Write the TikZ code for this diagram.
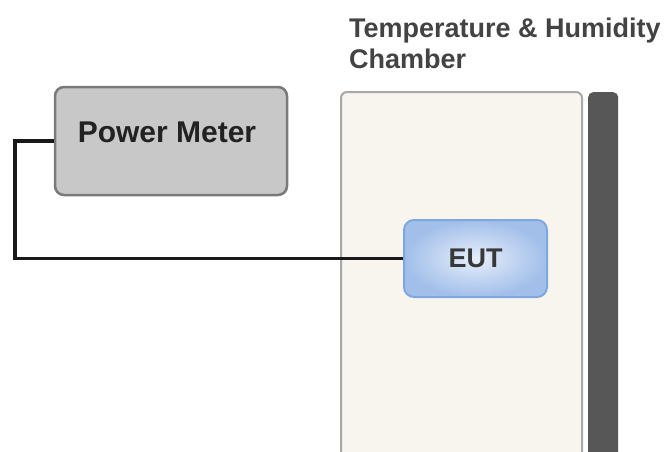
\documentclass[tikz,border=0pt]{standalone}
\usepackage{fontspec}
\setmainfont{Liberation Sans}
\definecolor{pmfill}{HTML}{C8C8C8}
\definecolor{pmline}{HTML}{7A7A7A}
\definecolor{chfill}{HTML}{F8F5EE}
\definecolor{chline}{HTML}{A8A8A8}
\definecolor{barfill}{HTML}{575757}
\definecolor{eutouter}{HTML}{A2BFEA}
\definecolor{eutinner}{HTML}{E6EEFA}
\definecolor{eutline}{HTML}{7FA7DF}
\definecolor{txt}{HTML}{222222}
\begin{document}
\begin{tikzpicture}[x=1pt,y=-1pt,
  pmbox/.style={draw=pmline, line width=2.5pt, fill=pmfill, rounded corners=9pt, minimum width=232pt, minimum height=108pt, inner sep=0pt},
  eutbox/.style={draw=eutline, line width=2pt, inner color=eutinner, outer color=eutouter, rounded corners=10pt, minimum width=143pt, minimum height=77pt, inner sep=0pt, font=\fontsize{27}{30}\selectfont\bfseries, text=txt!90!white},
  wire/.style={line width=3.5pt, black!90},
  lbl/.style={font=\fontsize{30}{34}\selectfont\bfseries, text=txt, inner sep=0pt}
]
\useasboundingbox (0,0) rectangle (664,452);
\fill[white] (0,0) rectangle (664,452);
% chamber body
\node[fill=chfill, rounded corners=6pt, minimum width=241pt, minimum height=372pt, inner sep=0pt, anchor=north west] (chamber) at (341,92) {};
\draw[chline, line width=2pt, rounded corners=6pt] (341,452) -- (341,92) -- (582,92) -- (582,452);
% dark wall
\node[fill=barfill, rounded corners=5pt, minimum width=30pt, minimum height=372pt, inner sep=0pt, anchor=north west] (wall) at (588,92) {};
% title
\node[anchor=north west, align=left, inner sep=0pt, font=\fontsize{27}{31}\selectfont\bfseries, text=txt!85!white] (title) at (349,18) {Temperature \& Humidity\\Chamber};
% power meter
\node[pmbox] (pm) at (171,141) {};
\node[lbl] (pmtext) at (167,132) {Power Meter};
% EUT
\node[eutbox] (eut) at (475.5,258.5) {EUT};
% wire
\coordinate (bend) at (15,141);
\draw[wire] (pm.west) -- (bend) |- (eut.west);
\end{tikzpicture}
\end{document}
